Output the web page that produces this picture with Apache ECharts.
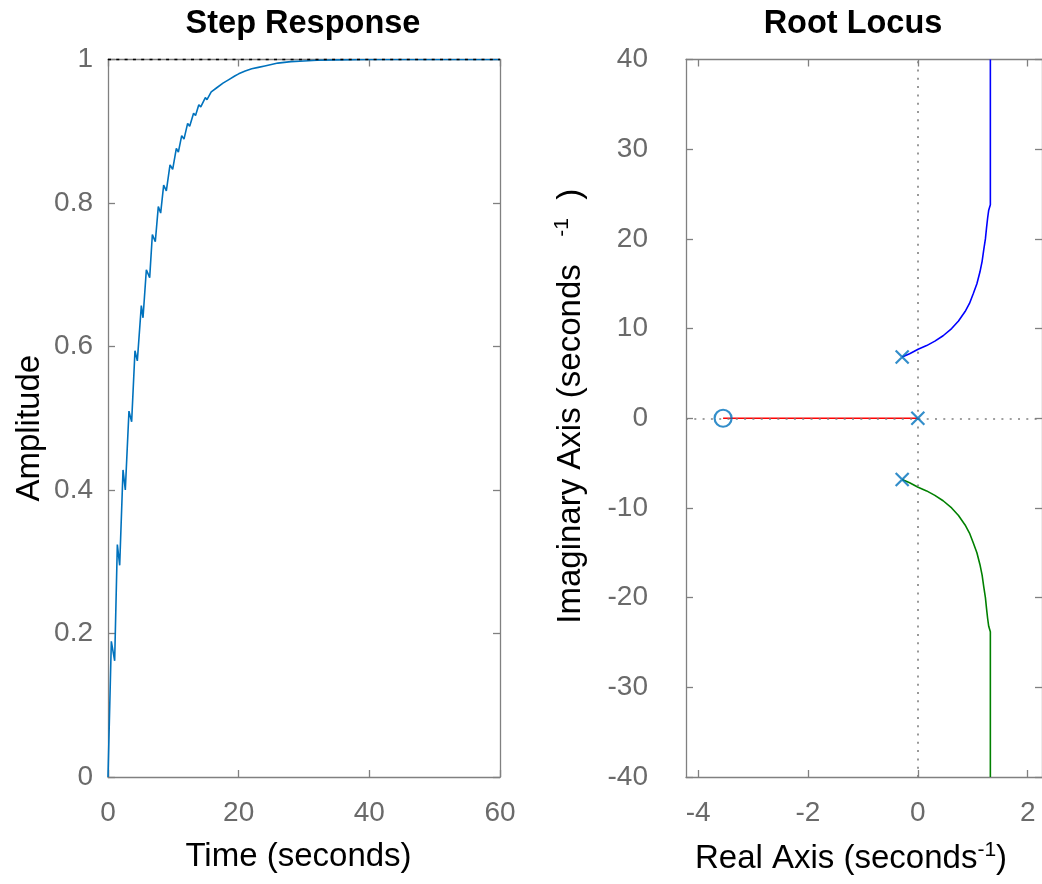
<!DOCTYPE html>
<html>
<head>
<meta charset="utf-8">
<style>
  html, body { margin: 0; padding: 0; background: #fff; }
  #chart { width: 1042px; height: 884px; }
</style>
<script src="https://cdn.jsdelivr.net/npm/echarts@6/dist/echarts.min.js"></script>
</head>
<body>
<div id="chart"></div>
<script>
// Step response samples (time in seconds, amplitude)
const stepTime = [0, 0.51, 1.02, 1.43, 1.79, 2.30, 2.65, 3.21, 3.62, 4.13, 4.49, 5.10, 5.36, 5.87, 6.38,
  6.79, 7.24, 7.70, 8.06, 8.52, 8.93, 9.49, 9.90, 10.46, 10.77, 11.28, 11.63, 12.19, 12.5, 13.1, 13.4,
  13.9, 14.2, 14.9, 15.15, 15.8, 16.1, 16.7, 17.0, 17.6, 17.9, 18.5, 18.8, 19.4, 20, 21, 22, 23, 24, 25,
  26, 27, 28, 30, 32, 35, 40, 45, 50, 55, 60];
const stepAmplitude = [0, 0.189, 0.162, 0.324, 0.295, 0.428, 0.400, 0.510, 0.495, 0.594, 0.580, 0.657, 0.640, 0.707, 0.696,
  0.756, 0.746, 0.795, 0.786, 0.825, 0.817, 0.853, 0.847, 0.876, 0.871, 0.894, 0.889, 0.911, 0.907, 0.925, 0.922,
  0.937, 0.934, 0.947, 0.944, 0.955, 0.953, 0.961, 0.960, 0.967, 0.966, 0.972, 0.972, 0.977, 0.980, 0.984, 0.987, 0.989, 0.991, 0.993,
  0.995, 0.996, 0.997, 0.998, 0.999, 0.9995, 1, 1, 1, 1, 1];
const steadyStateLevel = 1;

// Root locus branches (real part, imaginary part)
const upperBranchRe = [-0.285, -0.15, 0.005, 0.16, 0.31, 0.46, 0.615, 0.74, 0.86, 0.94, 1.01, 1.075,
  1.13, 1.17, 1.2, 1.23, 1.25, 1.27, 1.29, 1.32, 1.32];
const upperBranchIm = [6.83, 7.2, 7.7, 8.1, 8.6, 9.2, 10.0, 10.85, 11.9, 12.8, 13.9, 15.0,
  16.3, 17.5, 18.8, 20.0, 21.2, 22.3, 23.2, 23.8, 40];
const lowerBranchRe = [-0.285, -0.15, 0.005, 0.16, 0.31, 0.46, 0.615, 0.74, 0.86, 0.94, 1.01, 1.075,
  1.13, 1.17, 1.2, 1.23, 1.25, 1.27, 1.29, 1.32, 1.32];
const lowerBranchIm = [-6.83, -7.2, -7.7, -8.1, -8.6, -9.2, -10.0, -10.85, -11.9, -12.8, -13.9, -15.0,
  -16.3, -17.5, -18.8, -20.0, -21.2, -22.3, -23.2, -23.8, -40];
const realBranchRe = [-3.545, 0];
const realBranchIm = [0, 0];

// Open-loop poles and zero
const poleRe = [-0.285, 0, -0.285];
const poleIm = [6.83, 0, -6.83];
const zeroRe = [-3.545];
const zeroIm = [0];

// Axis ranges and tick labels
const stepTimeTicks = [0, 20, 40, 60];
const stepAmpTicks = [0, 0.2, 0.4, 0.6, 0.8, 1];
const realTicks = [-4, -2, 0, 2];
const imagTicks = [-40, -30, -20, -10, 0, 10, 20, 30, 40];
const realRange = [-4.22, 2.26];

const pairs = (xs, ys) => xs.map((x, i) => [x, ys[i]]);

const FONT = 'Liberation Sans, Arial, Helvetica, sans-serif';
const AXIS_GRAY = '#808080';
const LABEL_GRAY = '#6a6a6a';
const BLUE = '#0072BD';
const TICK_FONT = 28;
const NAME_FONT = 33;
const TITLE_FONT = 32.5;

function frameAxis(extra) {
  return Object.assign({
    type: 'value',
    axisLine: { show: true, onZero: false, lineStyle: { color: AXIS_GRAY, width: 1.3 } },
    axisTick: { show: true, inside: true, length: 7, lineStyle: { color: AXIS_GRAY, width: 1.3 } },
    axisLabel: { show: false },
    splitLine: { show: false }
  }, extra);
}

function labelStyle(extra) {
  return Object.assign({ show: true, color: LABEL_GRAY, fontFamily: FONT, fontSize: TICK_FONT }, extra);
}

function tickStyle(values) {
  return { show: true, inside: true, length: 7, customValues: values, lineStyle: { color: AXIS_GRAY, width: 1.3 } };
}

const supRich = {
  m: { fontFamily: FONT, fontSize: NAME_FONT, color: '#000', lineHeight: 38 },
  s: { fontFamily: FONT, fontSize: 21, color: '#000', verticalAlign: 'top', lineHeight: 22 }
};

const crossSymbol = 'path://M0,0L10,10M10,0L0,10';

const option = {
  animation: false,
  backgroundColor: '#ffffff',
  title: [
    { text: 'Step Response', left: 298, top: 3, textAlign: 'center',
      textStyle: { fontFamily: FONT, fontSize: TITLE_FONT, fontWeight: 'bold', color: '#000' } },
    { text: 'Root Locus', left: 848, top: 3, textAlign: 'center',
      textStyle: { fontFamily: FONT, fontSize: TITLE_FONT, fontWeight: 'bold', color: '#000' } }
  ],
  grid: [
    { left: 108, top: 59.5, width: 392, height: 717.5 },
    { left: 686, top: 59.5, width: 356, height: 717.5 }
  ],
  xAxis: [
    frameAxis({
      gridIndex: 0, position: 'bottom', min: 0, max: 60, interval: 20,
      axisLabel: labelStyle({ margin: 22, customValues: stepTimeTicks }),
      axisTick: tickStyle(stepTimeTicks),
      name: 'Time (seconds)', nameLocation: 'middle', nameGap: 63,
      nameTextStyle: { fontFamily: FONT, fontSize: NAME_FONT, color: '#000', padding: [0, 11, 0, 0] }
    }),
    frameAxis({ gridIndex: 0, position: 'top', min: 0, max: 60, interval: 20 }),
    frameAxis({
      gridIndex: 1, position: 'bottom', min: realRange[0], max: realRange[1],
      axisLabel: labelStyle({ margin: 22, customValues: realTicks }),
      axisTick: tickStyle(realTicks),
      name: '{m|Real Axis (seconds}{s|-1}{m|)}', nameLocation: 'middle', nameGap: 63,
      nameTextStyle: { fontFamily: FONT, fontSize: NAME_FONT, color: '#000', rich: supRich, padding: [0, 26, 0, 0] }
    }),
    frameAxis({
      gridIndex: 1, position: 'top', min: realRange[0], max: realRange[1],
      axisTick: tickStyle(realTicks)
    })
  ],
  yAxis: [
    frameAxis({
      gridIndex: 0, position: 'left', min: 0, max: 1, interval: 0.2,
      axisLabel: labelStyle({ margin: 15, customValues: stepAmpTicks }),
      name: 'Amplitude', nameLocation: 'middle', nameGap: 62, nameRotate: 90,
      nameTextStyle: { fontFamily: FONT, fontSize: NAME_FONT, color: '#000', padding: [0, 20, 0, 0] }
    }),
    frameAxis({ gridIndex: 0, position: 'right', min: 0, max: 1, interval: 0.2 }),
    frameAxis({
      gridIndex: 1, position: 'left', min: -40, max: 40, interval: 10,
      axisLabel: labelStyle({ margin: 38, customValues: imagTicks }),
      name: '{m|Imaginary Axis (seconds   }{s|-1}{m|  )}', nameLocation: 'middle', nameGap: 96, nameRotate: 90,
      nameTextStyle: { fontFamily: FONT, fontSize: NAME_FONT, color: '#000', rich: supRich, padding: [0, 0, 0, 24] }
    }),
    frameAxis({ gridIndex: 1, position: 'right', min: -40, max: 40, interval: 10 })
  ],
  series: [
    {
      name: 'Step', type: 'line', xAxisIndex: 0, yAxisIndex: 0,
      data: pairs(stepTime, stepAmplitude), showSymbol: false, symbol: 'none',
      lineStyle: { color: BLUE, width: 1.6 }, z: 3,
      markLine: {
        silent: true, symbol: 'none', label: { show: false },
        lineStyle: { color: '#000', type: [3, 5.3], width: 1.3 },
        data: [{ yAxis: steadyStateLevel }]
      }
    },
    {
      name: 'Real branch', type: 'line', xAxisIndex: 2, yAxisIndex: 2,
      data: pairs(realBranchRe, realBranchIm), symbol: 'none',
      lineStyle: { color: '#ff0000', width: 1.6 }, z: 3,
      markLine: {
        silent: true, symbol: 'none', label: { show: false },
        lineStyle: { color: '#808080', type: [2, 6.3], width: 1.6 },
        data: [{ xAxis: 0 }, { yAxis: 0 }]
      }
    },
    {
      name: 'Upper branch', type: 'line', xAxisIndex: 2, yAxisIndex: 2,
      data: pairs(upperBranchRe, upperBranchIm), symbol: 'none',
      lineStyle: { color: '#0000ff', width: 1.6 }, z: 3
    },
    {
      name: 'Lower branch', type: 'line', xAxisIndex: 2, yAxisIndex: 2,
      data: pairs(lowerBranchRe, lowerBranchIm), symbol: 'none',
      lineStyle: { color: '#008000', width: 1.6 }, z: 3
    },
    {
      name: 'Poles', type: 'scatter', xAxisIndex: 2, yAxisIndex: 2,
      data: pairs(poleRe, poleIm), symbol: crossSymbol, symbolSize: 13,
      itemStyle: { color: 'none', borderColor: BLUE, borderWidth: 2.2 }, z: 5
    },
    {
      name: 'Zero', type: 'scatter', xAxisIndex: 2, yAxisIndex: 2,
      data: pairs(zeroRe, zeroIm), symbol: 'circle', symbolSize: 17,
      itemStyle: { color: 'rgba(0,0,0,0)', borderColor: BLUE, borderWidth: 2.2 }, z: 5
    }
  ]
};

const chart = echarts.init(document.getElementById('chart'), null, { renderer: 'canvas' });
chart.setOption(option);
</script>
</body>
</html>
